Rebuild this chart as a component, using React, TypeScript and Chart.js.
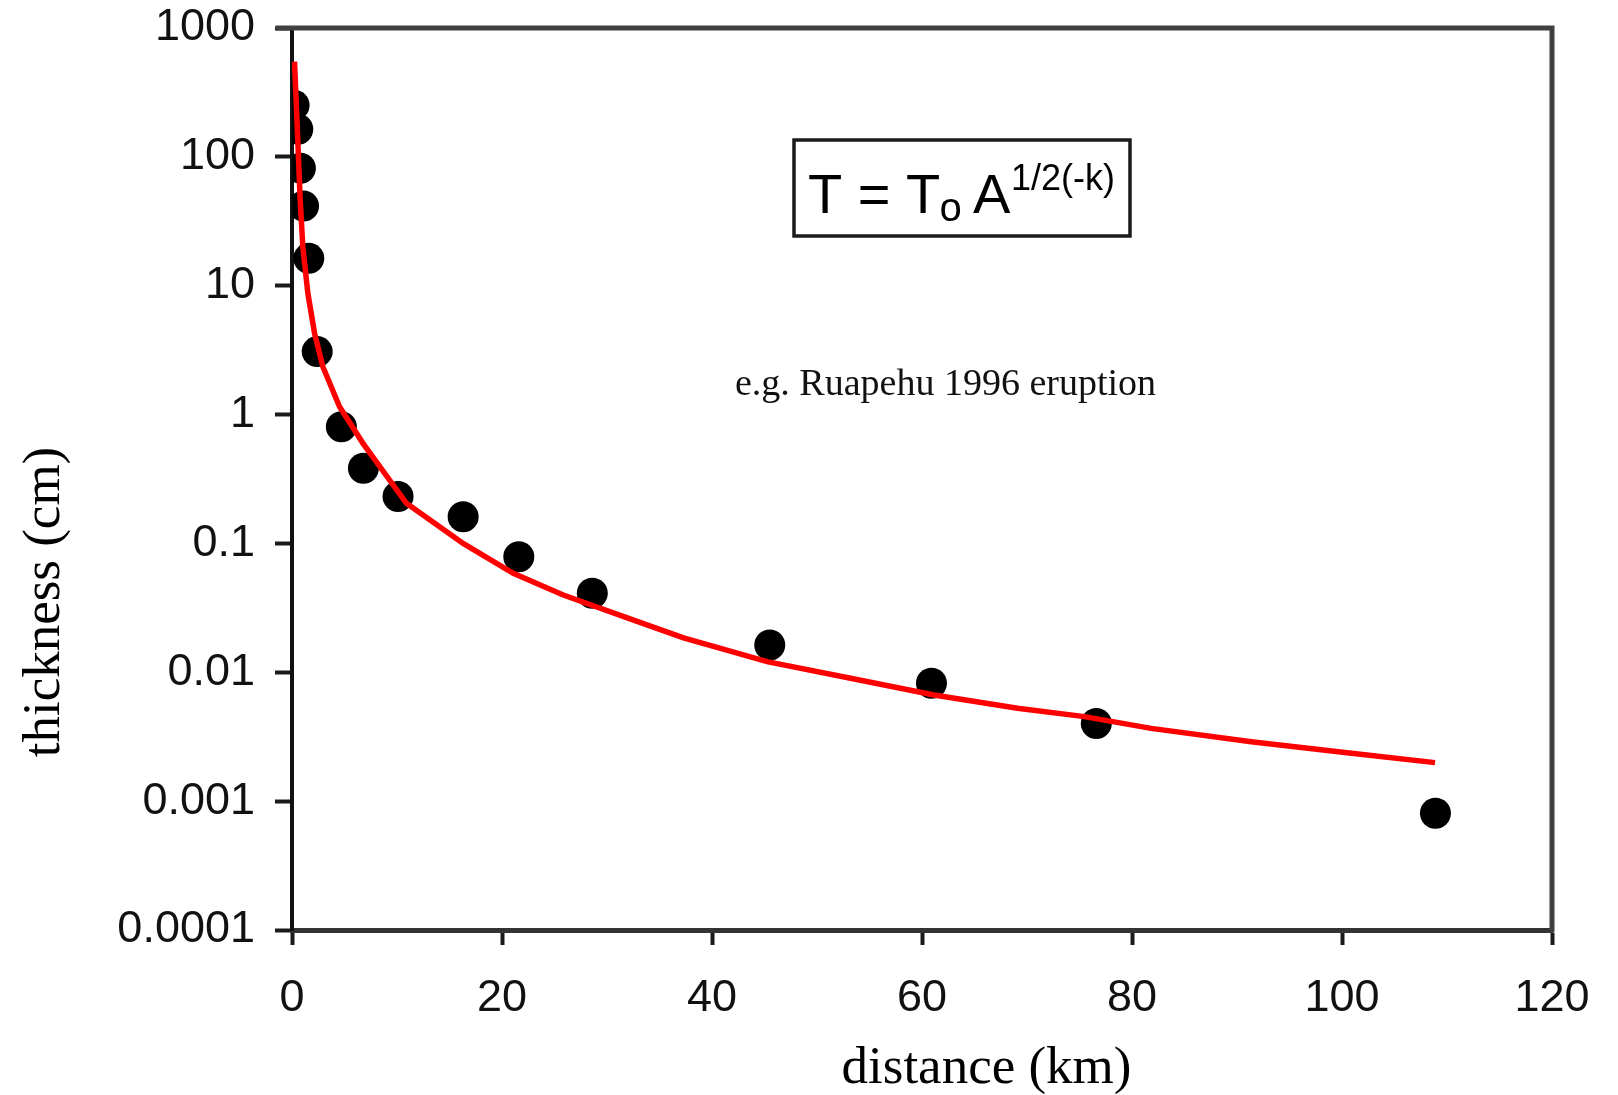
import React, { useEffect, useRef } from "react";
import { Chart, registerables } from "chart.js";

Chart.register(...registerables);

// Observed deposit thickness (black dots)
const observedDistance = [0.2, 0.55, 0.8, 1.1, 1.6, 2.4, 4.7, 6.8, 10.1, 16.3, 21.6, 28.6, 45.5, 60.9, 76.6, 108.9];
const observedThickness = [252, 164, 81.5, 41.6, 16.3, 3.08, 0.805, 0.383, 0.231, 0.161, 0.0789, 0.041, 0.0163, 0.00822, 0.00401, 0.000805];

// Fitted curve (red line)
const fitDistance = [0.24, 0.55, 0.78, 1.03, 1.51, 2.15, 2.94, 4.53, 6.76, 10.9, 16.3, 21.07, 25.84, 32.2, 37.29, 45.25, 53.2, 61.15, 69.1, 75.46, 81.82, 91.36, 100.9, 108.86];
const fitThickness = [548, 135, 46.2, 20.1, 8.73, 4.27, 2.35, 1.15, 0.598, 0.205, 0.1, 0.0587, 0.0398, 0.026, 0.0185, 0.0121, 0.00898, 0.00667, 0.00526, 0.00453, 0.00367, 0.00289, 0.00235, 0.00199];

// Axis ticks
const yTickValues = [0.0001, 0.001, 0.01, 0.1, 1, 10, 100, 1000];
const yTickLabels = ["0.0001", "0.001", "0.01", "0.1", "1", "10", "100", "1000"];
const xTickValues = [0, 20, 40, 60, 80, 100, 120];
const xTickLabels = ["0", "20", "40", "60", "80", "100", "120"];

const xTitle = "distance (km)";
const yTitle = "thickness (cm)";
const noteText = "e.g. Ruapehu 1996 eruption";

const SANS = '"Liberation Sans", Arial, sans-serif';
const SERIF = '"Liberation Serif", "Times New Roman", serif';

const decorPlugin = {
  id: "decor",
  beforeDatasetsDraw(chart: any) {
    const ctx = chart.ctx;
    const a = chart.chartArea;
    ctx.save();
    ctx.strokeStyle = "#404040";
    ctx.lineWidth = 5;
    ctx.lineCap = "square";
    ctx.beginPath();
    ctx.moveTo(a.left - 14, a.top);
    ctx.lineTo(a.right, a.top);
    ctx.lineTo(a.right, a.bottom);
    ctx.stroke();
    ctx.restore();
  },
  afterDraw(chart: any) {
    const ctx = chart.ctx;
    ctx.save();
    ctx.fillStyle = "#000";
    ctx.textBaseline = "alphabetic";
    ctx.textAlign = "left";

    // equation box
    ctx.strokeStyle = "#1a1a1a";
    ctx.lineWidth = 3.5;
    ctx.strokeRect(794, 140, 336, 96);
    ctx.font = "56px " + SANS;
    ctx.fillText("T = T", 808, 213);
    ctx.font = "40px " + SANS;
    ctx.fillText("o", 939.5, 221);
    ctx.font = "56px " + SANS;
    ctx.fillText("A", 973, 213);
    ctx.font = "36px " + SANS;
    ctx.fillText("1/2(-k)", 1011, 190);

    // note
    ctx.fillStyle = "#111";
    ctx.font = "38px " + SERIF;
    ctx.fillText(noteText, 735, 395);

    // axis titles
    ctx.fillStyle = "#000";
    ctx.font = "53px " + SERIF;
    ctx.textAlign = "center";
    ctx.fillText(xTitle, 986.5, 1083);
    ctx.translate(59, 602);
    ctx.rotate(-Math.PI / 2);
    ctx.fillText(yTitle, 0, 0);
    ctx.restore();
  },
};

export default function App() {
  const canvasRef = useRef<HTMLCanvasElement | null>(null);

  useEffect(() => {
    document.body.style.margin = "0";
    const canvas = canvasRef.current;
    if (!canvas) return;
    const chart = new Chart(canvas, {
      type: "scatter",
      data: {
        datasets: [
          {
            label: "fit",
            data: fitDistance.map((x, i) => ({ x, y: fitThickness[i] })),
            showLine: true,
            borderColor: "#ff0000",
            borderWidth: 5.5,
            pointRadius: 0,
            tension: 0,
            fill: false,
            order: 0,
          } as any,
          {
            label: "observed",
            data: observedDistance.map((x, i) => ({ x, y: observedThickness[i] })),
            showLine: false,
            backgroundColor: "#000",
            borderColor: "#000",
            borderWidth: 0,
            pointRadius: 15.5,
            order: 1,
          } as any,
        ],
      },
      options: {
        responsive: false,
        maintainAspectRatio: false,
        animation: false,
        devicePixelRatio: 1,
        layout: { padding: { top: 28, right: 66, left: 0, bottom: 0 } },
        plugins: {
          legend: { display: false },
          tooltip: { enabled: false },
          title: { display: false },
        },
        scales: {
          x: {
            type: "linear",
            min: 0,
            max: 120,
            afterBuildTicks: (s: any) => {
              s.ticks = xTickValues.map((v) => ({ value: v }));
            },
            afterFit: (s: any) => {
              s.height = 165;
              s.paddingLeft = 0;
              s.paddingRight = 0;
            },
            ticks: {
              autoSkip: false,
              maxRotation: 0,
              padding: 27,
              color: "#111",
              font: { family: SANS, size: 45 },
              callback: (v: any) => {
                const i = xTickValues.indexOf(Number(v));
                return i >= 0 ? xTickLabels[i] : "";
              },
            },
            grid: {
              drawOnChartArea: false,
              drawTicks: true,
              tickLength: 15,
              tickWidth: 4,
              tickColor: "#1a1a1a",
            },
            border: { display: true, color: "#333", width: 5 },
          },
          y: {
            type: "logarithmic",
            min: 0.0001,
            max: 1000,
            afterBuildTicks: (s: any) => {
              s.ticks = yTickValues.map((v) => ({ value: v }));
            },
            afterFit: (s: any) => {
              s.width = 292;
              s.paddingTop = 0;
              s.paddingBottom = 0;
            },
            ticks: {
              autoSkip: false,
              padding: 20,
              color: "#111",
              font: { family: SANS, size: 45 },
              callback: (v: any) => {
                const n = Number(v);
                const i = yTickValues.findIndex((t) => Math.abs(t - n) / t < 1e-6);
                return i >= 0 ? yTickLabels[i] : "";
              },
            },
            grid: {
              drawOnChartArea: false,
              drawTicks: true,
              tickLength: 17,
              tickWidth: 4,
              tickColor: "#1a1a1a",
            },
            border: { display: true, color: "#111", width: 4 },
          },
        },
      },
      plugins: [decorPlugin],
    });
    return () => chart.destroy();
  }, []);

  return (
    <div style={{ width: 1618, height: 1095, background: "#fff" }}>
      <canvas ref={canvasRef} width={1618} height={1095} style={{ display: "block" }} />
    </div>
  );
}
